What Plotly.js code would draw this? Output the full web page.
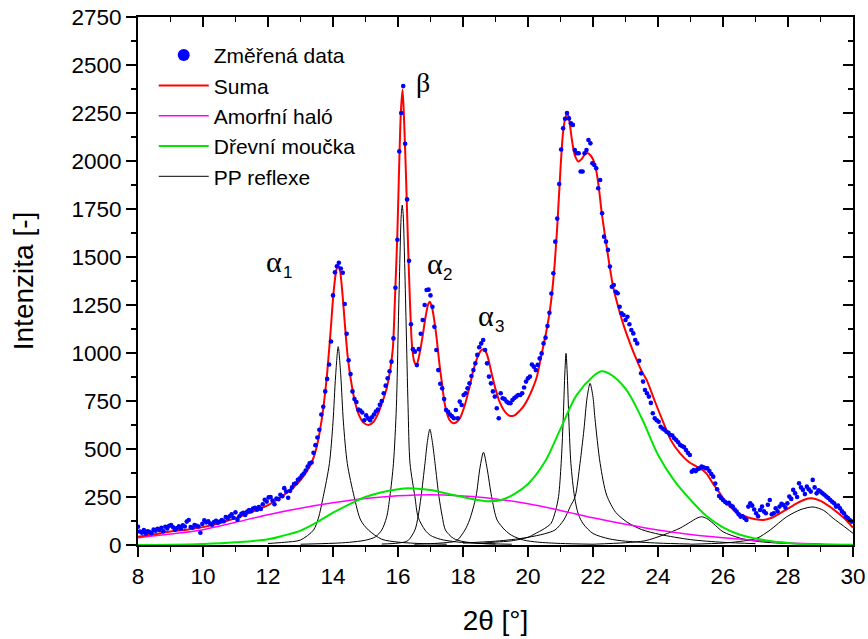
<!DOCTYPE html>
<html><head><meta charset="utf-8">
<script src="https://cdn.plot.ly/plotly-3.0.1.min.js"></script>
<style>html,body{margin:0;padding:0;background:#fff}</style>
</head><body><div id="chart" style="width:868px;height:639px"></div>
<script>
// ---- measured data (2θ from 8.00, step 0.06) ----
const measStart = 8;
const measStep = 0.06;
const measured = [
95, 70, 64, 78, 60, 72, 68, 62, 80, 74,
84, 78, 90, 72, 95, 86, 100, 104, 92, 80,
88, 98, 85, 102, 96, 122, 130, 94, 90, 104,
100, 96, 64, 110, 128, 118, 124, 112, 106, 120,
126, 116, 122, 130, 124, 146, 138, 150, 160, 142,
170, 132, 150, 162, 168, 156, 174, 182, 176, 190,
194, 184, 198, 188, 212, 236, 226, 248, 250, 232,
212, 242, 238, 262, 254, 296, 278, 246, 282, 300,
318, 322, 340, 348, 362, 372, 388, 408, 425, 430,
480, 520, 560, 600, 680, 720, 800, 865, 940, 1060,
1300, 1420, 1452, 1470, 1440, 1418, 1255, 1100, 962, 890,
800, 760, 745, 705, 700, 690, 650, 675, 660, 650,
665, 680, 695, 705, 730, 750, 790, 830, 868, 905,
955, 1076, 1340, 1590, 2050, 2250, 2390, 2090, 1800, 1480,
1150, 1020, 1007, 937, 1020, 1100, 1172, 1250, 1328, 1330,
1300, 1241, 1137, 1016, 911, 840, 816, 760, 703, 694,
680, 670, 660, 703, 660, 747, 729, 781, 790, 816,
842, 880, 911, 946, 990, 1030, 1050, 1068, 1016, 946,
877, 842, 800, 773, 712, 660, 790, 764, 760, 747,
740, 738, 755, 765, 773, 781, 781, 790, 820, 851,
868, 877, 940, 929, 911, 938, 972, 998, 1050, 1080,
1140, 1210, 1310, 1415, 1580, 1700, 1880, 2060, 2170, 2220,
2250, 2222, 2196, 2188, 2057, 2040, 2040, 1945, 1945, 2040,
2057, 2109, 2092, 1988, 1979, 1962, 1858, 1901, 1728, 1606,
1580, 1537, 1450, 1345, 1354, 1319, 1311, 1241, 1207, 1198,
1172, 1189, 1150, 1120, 1102, 1068, 1050, 960, 894, 851,
807, 790, 773, 740, 686, 660, 650, 642, 616, 607,
600, 590, 585, 573, 570, 556, 547, 535, 521, 515,
510, 495, 480, 469, 382, 390, 385, 395, 399, 408,
405, 400, 399, 385, 370, 356, 320, 290, 255, 245,
234, 225, 217, 220, 205, 200, 185, 174, 160, 148,
150, 140, 130, 200, 217, 205, 185, 165, 150, 182,
200, 175, 165, 210, 234, 160, 165, 191, 175, 200,
215, 208, 195, 217, 252, 240, 287, 269, 250, 321,
300, 287, 265, 304, 290, 278, 339, 300, 269, 285,
278, 269, 262, 252, 245, 234, 225, 217, 200, 205,
191, 175, 165, 148, 140, 130, 122
];

// ---- fitted sum ----
const sumaX = [8.0, 8.5, 9.0, 9.5, 10.0, 10.5, 11.0, 11.5, 12.0, 12.5, 12.75, 13.0, 13.2, 13.35, 13.5, 13.65, 13.8, 13.92, 14.02, 14.1, 14.16, 14.22, 14.3, 14.37, 14.45, 14.55, 14.65, 14.78, 14.92, 15.09, 15.25, 15.39, 15.52, 15.65, 15.75, 15.84, 15.91, 15.98, 16.04, 16.09, 16.14, 16.19, 16.25, 16.31, 16.37, 16.43, 16.5, 16.57, 16.65, 16.75, 16.85, 16.93, 16.98, 17.05, 17.12, 17.19, 17.27, 17.34, 17.45, 17.58, 17.7, 17.8, 17.91, 18.05, 18.2, 18.32, 18.45, 18.55, 18.63, 18.72, 18.8, 18.88, 19.0, 19.14, 19.3, 19.45, 19.6, 19.75, 19.86, 20.0, 20.15, 20.27, 20.42, 20.55, 20.68, 20.8, 20.9, 21.0, 21.08, 21.15, 21.22, 21.28, 21.36, 21.45, 21.55, 21.65, 21.75, 21.83, 21.92, 22.01, 22.1, 22.18, 22.27, 22.42, 22.62, 22.8, 22.95, 23.14, 23.34, 23.5, 23.65, 23.9, 24.16, 24.4, 24.68, 24.95, 25.19, 25.35, 25.5, 25.7, 25.91, 26.05, 26.22, 26.45, 26.73, 27.0, 27.24, 27.5, 27.75, 28.0, 28.27, 28.5, 28.73, 29.0, 29.29, 29.55, 29.8, 30.0];
const sumaY = [43, 56, 70, 80, 93, 113, 140, 172, 208, 262, 296, 338, 385, 432, 512, 650, 860, 1100, 1320, 1430, 1458, 1425, 1290, 1140, 985, 860, 765, 685, 640, 625, 642, 686, 745, 815, 900, 1020, 1300, 1620, 2000, 2260, 2372, 2200, 1900, 1560, 1260, 1040, 955, 937, 985, 1080, 1190, 1255, 1267, 1235, 1165, 1075, 950, 859, 725, 652, 634, 640, 662, 725, 822, 911, 980, 1012, 1020, 1000, 955, 894, 812, 740, 692, 672, 677, 700, 722, 762, 818, 875, 995, 1100, 1230, 1420, 1660, 1960, 2150, 2225, 2248, 2200, 2100, 2025, 1997, 2010, 2035, 2042, 2030, 2005, 1950, 1860, 1728, 1554, 1345, 1225, 1140, 1050, 965, 905, 860, 750, 640, 545, 477, 432, 408, 393, 370, 318, 268, 232, 199, 168, 146, 134, 130, 142, 165, 190, 217, 236, 243, 230, 199, 165, 128, 90];

// ---- amorphous halo ----
const amorfX = [8, 9, 10, 11, 12, 13, 14, 15, 16, 17, 18, 19, 20, 21, 22, 23, 24, 25, 26, 27, 28, 29, 30];
const amorfY = [38, 57, 80, 118, 158, 192, 220, 242, 256, 262, 255, 240, 215, 180, 142, 108, 78, 55, 38, 24, 12, 5, 2];

// ---- wood flour ----
const drevX = [8, 9, 10, 11, 12, 12.5, 13, 13.5, 14, 14.5, 15, 15.5, 16, 16.3, 16.7, 17, 17.5, 18, 18.4, 18.8, 19.2, 19.6, 20, 20.5, 21, 21.5, 22, 22.25, 22.5, 23, 23.5, 24, 24.5, 25, 25.5, 26, 26.5, 27, 27.5, 28, 28.5, 29, 30];
const drevY = [0, 1, 5, 14, 30, 50, 75, 118, 168, 212, 250, 275, 290, 295, 292, 286, 268, 250, 236, 228, 236, 268, 318, 428, 605, 782, 878, 905, 893, 815, 660, 470, 335, 235, 150, 92, 55, 34, 19, 10, 4, 1, 0];

// ---- PP reflections ----
const ppA1X = [12.0, 12.5, 13.0, 13.4, 13.55, 13.7, 13.89, 14.0, 14.08, 14.16, 14.24, 14.32, 14.44, 14.65, 14.85, 15.09, 15.5, 16.0, 16.5, 17.0, 17.5];
const ppA1Y = [8, 14, 26, 78, 140, 252, 425, 640, 880, 1033, 880, 640, 425, 252, 130, 78, 30, 15, 9, 6, 4];
const ppBX = [13.0, 14.0, 14.5, 15.0, 15.3, 15.5, 15.65, 15.75, 15.86, 15.95, 16.01, 16.06, 16.1, 16.13, 16.16, 16.2, 16.25, 16.31, 16.37, 16.52, 16.62, 16.83, 17.0, 17.3, 17.8, 18.5, 19.5];
const ppBY = [4, 9, 14, 25, 42, 78, 145, 252, 425, 720, 1150, 1500, 1720, 1770, 1720, 1500, 1150, 720, 425, 252, 145, 78, 50, 30, 16, 8, 4];
const ppA2X = [15.5, 16.0, 16.3, 16.52, 16.62, 16.71, 16.83, 16.91, 16.98, 17.05, 17.14, 17.26, 17.36, 17.46, 17.7, 18.0, 18.5, 19.0];
const ppA2Y = [5, 10, 22, 78, 150, 252, 425, 545, 603, 545, 425, 252, 150, 78, 35, 18, 9, 5];
const ppA3X = [16.5, 17.0, 17.5, 17.8, 18.06, 18.2, 18.4, 18.52, 18.63, 18.74, 18.88, 19.05, 19.29, 19.5, 19.86, 20.3, 21.0, 22.0];
const ppA3Y = [4, 7, 13, 22, 78, 130, 252, 400, 483, 400, 252, 130, 78, 50, 26, 15, 8, 4];
const pp21X = [18.5, 19.0, 19.5, 20.0, 20.2, 20.5, 20.71, 20.85, 20.94, 21.02, 21.08, 21.13, 21.17, 21.21, 21.26, 21.32, 21.43, 21.55, 21.7, 22.0, 22.5, 23.0, 24.0, 25.0];
const pp21Y = [8, 15, 22, 40, 57, 85, 113, 180, 252, 425, 640, 880, 998, 880, 640, 425, 252, 160, 110, 60, 32, 20, 10, 5];
const pp22X = [18.0, 19.0, 19.5, 20.0, 20.5, 20.83, 21.1, 21.3, 21.45, 21.6, 21.72, 21.82, 21.91, 22.0, 22.06, 22.22, 22.42, 22.7, 23.04, 23.5, 24.06, 25.0, 26.0, 27.0];
const pp22Y = [10, 20, 28, 40, 58, 78, 130, 200, 252, 425, 599, 770, 842, 770, 660, 425, 260, 170, 120, 80, 55, 28, 14, 7];
const pp25X = [22.0, 23.0, 23.6, 24.16, 24.68, 25.0, 25.2, 25.34, 25.5, 25.7, 26.0, 26.52, 27.0, 27.5, 28.0, 29.0];
const pp25Y = [4, 12, 22, 52, 88, 120, 140, 147, 138, 112, 69, 36, 20, 12, 8, 4];
const pp29X = [25.0, 26.0, 26.5, 27.04, 27.45, 27.96, 28.4, 28.77, 29.1, 29.39, 29.7, 30.0];
const pp29Y = [4, 10, 18, 35, 78, 147, 185, 198, 180, 139, 100, 61];

const xTicks = [8, 10, 12, 14, 16, 18, 20, 22, 24, 26, 28, 30];
const yTicks = [0, 250, 500, 750, 1000, 1250, 1500, 1750, 2000, 2250, 2500, 2750];

const FONT = 'Arial, "Liberation Sans", sans-serif';
const SERIF = '"Times New Roman", "Liberation Serif", serif';

const ppPeaks = [[ppA1X, ppA1Y], [ppBX, ppBY], [ppA2X, ppA2Y], [ppA3X, ppA3Y], [pp21X, pp21Y], [pp22X, pp22Y], [pp25X, pp25Y], [pp29X, pp29Y]];

const traces = [];
ppPeaks.forEach((p, i) => {
  traces.push({type: 'scatter', mode: 'lines', x: p[0], y: p[1], name: 'PP reflexe',
    legendgroup: 'pp', showlegend: i === 0, legendrank: 5,
    line: {color: '#000000', width: 1, shape: 'spline', smoothing: 0.8}});
});
traces.push({type: 'scatter', mode: 'lines', x: amorfX, y: amorfY, name: 'Amorfní haló', legendrank: 3,
  line: {color: '#ff00ff', width: 1.5, shape: 'spline', smoothing: 1}});
traces.push({type: 'scatter', mode: 'lines', x: drevX, y: drevY, name: 'Dřevní moučka', legendrank: 4,
  line: {color: '#00e600', width: 2, shape: 'spline', smoothing: 1}});
traces.push({type: 'scatter', mode: 'lines', x: sumaX, y: sumaY, name: 'Suma', legendrank: 2,
  line: {color: '#ff0000', width: 2, shape: 'spline', smoothing: 0.8}});
traces.push({type: 'scatter', mode: 'markers', x0: measStart, dx: measStep, y: measured, name: 'Změřená data',
  legendgroup: 'data', showlegend: false, marker: {color: '#0000ff', size: 4.6}});
// legend-only symbol for the measured data (larger dot, draws no point)
traces.push({type: 'scatter', mode: 'markers', x: [null], y: [null], name: 'Změřená data', legendgroup: 'data',
  legendrank: 1, marker: {color: '#0000ff', size: 12}, hoverinfo: 'skip'});
traces.push({type: 'scatter', mode: 'markers', x: [], y: [], xaxis: 'x2', yaxis: 'y2', showlegend: false, hoverinfo: 'skip'});

const tickStyle = {tickcolor: '#000', tickwidth: 1.5};
const ann = (x, y, text, family, size) => ({x, y, xref: 'x', yref: 'y', showarrow: false,
  xanchor: 'center', yanchor: 'middle', text, font: {family, size, color: '#000'}});

const layout = {
  width: 868, height: 639,
  margin: {l: 138, r: 15, t: 17, b: 94},
  paper_bgcolor: '#ffffff', plot_bgcolor: '#ffffff',
  font: {family: FONT, color: '#000', size: 22},
  showlegend: true,
  legend: {x: 0.022, y: 0.966, xanchor: 'left', yanchor: 'top', bgcolor: 'rgba(0,0,0,0)',
    font: {family: FONT, size: 21, color: '#000'}, itemwidth: 50, tracegroupgap: 0},
  xaxis: Object.assign({range: [8, 30], tickvals: xTicks, ticktext: xTicks.map(String), ticks: 'outside', ticklen: 10,
    showline: true, linecolor: '#000', linewidth: 2, mirror: true, showgrid: false, zeroline: false,
    tickfont: {family: FONT, size: 22.5},
    minor: {dtick: 1, tick0: 8, ticks: 'outside', ticklen: 5, tickwidth: 1.5, tickcolor: '#000', showgrid: false},
    title: {text: '2θ [°]', font: {family: FONT, size: 28}, standoff: 22}}, tickStyle),
  yaxis: Object.assign({range: [0, 2750], tickvals: yTicks, ticktext: yTicks.map(String), ticks: 'outside', ticklen: 10,
    showline: true, linecolor: '#000', linewidth: 2, mirror: true, showgrid: false, zeroline: false,
    tickfont: {family: FONT, size: 22.5},
    minor: {dtick: 125, tick0: 0, ticks: 'outside', ticklen: 5, tickwidth: 1.5, tickcolor: '#000', showgrid: false},
    title: {text: 'Intenzita [-]', font: {family: FONT, size: 28}, standoff: 30}}, tickStyle),
  xaxis2: Object.assign({overlaying: 'x', side: 'top', anchor: 'y', range: [8, 30], tickvals: xTicks, ticks: 'inside', ticklen: 10,
    showticklabels: false, showline: false, showgrid: false, zeroline: false,
    minor: {dtick: 1, tick0: 8, ticks: 'inside', ticklen: 5, tickwidth: 1.5, tickcolor: '#000', showgrid: false}}, tickStyle),
  yaxis2: Object.assign({overlaying: 'y', side: 'right', anchor: 'x', range: [0, 2750], tickvals: yTicks, ticks: 'inside', ticklen: 10,
    showticklabels: false, showline: false, showgrid: false, zeroline: false,
    minor: {dtick: 125, tick0: 0, ticks: 'inside', ticklen: 5, tickwidth: 1.5, tickcolor: '#000', showgrid: false}}, tickStyle),
  annotations: [
    ann(12.185, 1475, 'α', SERIF, 30),
    ann(12.585, 1417, '1', FONT, 17),
    ann(16.77, 2411, 'β', SERIF, 28),
    ann(17.14, 1464, 'α', SERIF, 30),
    ann(17.52, 1409, '2', FONT, 17),
    ann(18.71, 1193, 'α', SERIF, 30),
    ann(19.11, 1138, '3', FONT, 17)
  ]
};

Plotly.newPlot('chart', traces, layout, {displayModeBar: false, staticPlot: true});
</script></body></html>
